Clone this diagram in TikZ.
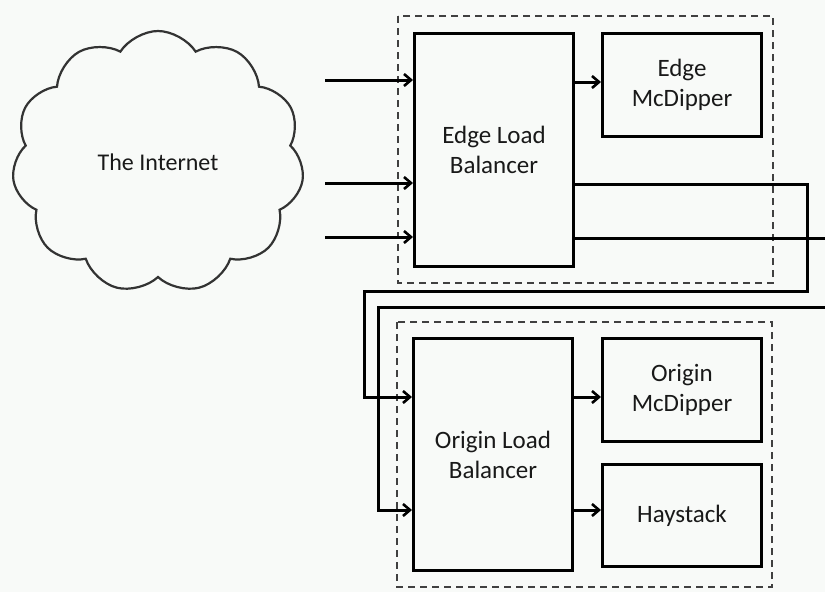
\documentclass[tikz,border=0pt]{standalone}
\usepackage{fontspec}
\setmainfont{Carlito}
\usetikzlibrary{arrows.meta,shapes.symbols}
\definecolor{bg}{RGB}{248,250,248}
\begin{document}
\begin{tikzpicture}[x=1pt,y=-1pt,
  box/.style={draw,line width=3pt,anchor=north west,inner sep=0pt,align=center,text=black!90,font=\fontsize{25}{30}\selectfont},
  group/.style={draw=black!75,line width=2.8pt,dash pattern=on 7pt off 5pt},
  wire/.style={line width=3pt},
  tip/.style={-{Straight Barb[length=7pt,width=12pt,line width=2.6pt]}},
  arr/.style={wire,tip}]
\useasboundingbox (0,0) rectangle (825,592);
\fill[bg] (0,0) rectangle (825,592);
% cloud
\node[cloud,draw=black!80,line width=2.2pt,cloud puffs=11,cloud puff arc=115,aspect=1.12,
  minimum width=292pt,minimum height=262pt,text=black!90,
  font=\fontsize{24}{28}\selectfont] (net) at (158,162) {The Internet};
% groups
\draw[group] (398,16) rectangle (773,283);
\draw[group] (397,322) rectangle (772,587);
% boxes
\node[box,minimum width=159pt,minimum height=233pt] (elb) at (413,32) {Edge Load\\Balancer};
\node[box,minimum width=159pt,minimum height=103pt] (emc) at (601,32) {Edge\\McDipper};
\node[box,minimum width=159pt,minimum height=232pt] (olb) at (412,337) {Origin Load\\Balancer};
\node[box,minimum width=159pt,minimum height=103pt] (omc) at (601,337) {Origin\\McDipper};
\node[box,minimum width=159pt,minimum height=102pt] (hay) at (601,463) {Haystack};
% inputs
\coordinate (i1) at (325,80);
\coordinate (i2) at (325,183);
\coordinate (i3) at (325,237);
\draw[arr] (i1) -- (i1 -| elb.west);
\draw[arr] (i2) -- (i2 -| elb.west);
\draw[arr] (i3) -- (i3 -| elb.west);
\draw[arr] (elb.east |- 0,82) -- (emc.west |- 0,82);
% cross wires
\draw[arr] (elb.east |- 0,184) -- (807,184) -- (807,291) -- (364,291) -- (364,397) -- (olb.west |- 0,397);
\draw[arr] (elb.east |- 0,238) -- (835,238) -- (835,307) -- (378,307) -- (378,510) -- (olb.west |- 0,510);
\draw[arr] (olb.east |- 0,397) -- (omc.west |- 0,397);
\draw[arr] (olb.east |- 0,510) -- (hay.west |- 0,510);
\end{tikzpicture}
\end{document}
